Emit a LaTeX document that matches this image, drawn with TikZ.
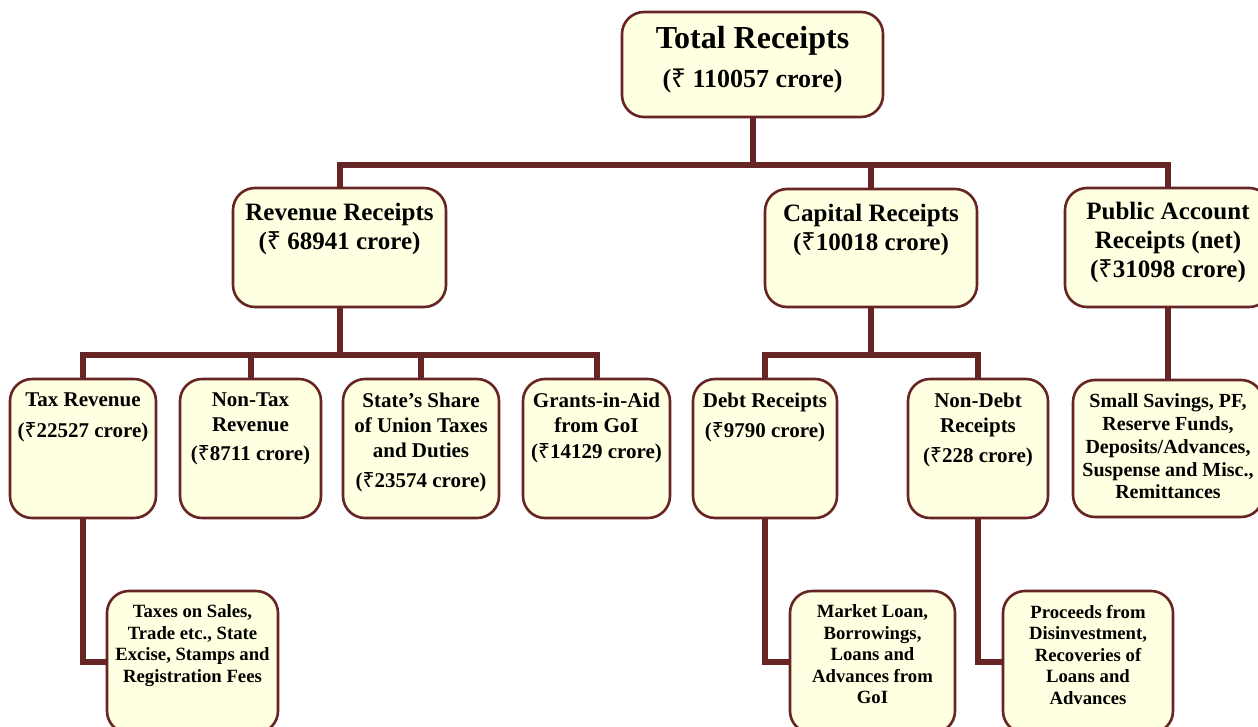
\documentclass[tikz,border=0pt]{standalone}
\usepackage{fontspec}
\setmainfont{Liberation Serif}
\newfontfamily\rupfont{Noto Sans}
\newcommand\Rs{{\rupfont\mdseries ₹}}
\usetikzlibrary{backgrounds}
\definecolor{edgec}{RGB}{102,36,36}
\definecolor{boxfill}{RGB}{255,255,225}
\tikzset{
  box/.style={draw=edgec, line width=2.6pt, fill=boxfill, rounded corners=22pt, inner sep=0pt},
  conn/.style={draw=edgec, line width=6pt, line join=miter, line cap=rect},
  lbl/.style={anchor=north, align=center, inner sep=0pt, font=\bfseries, execute at begin node={\rule{0pt}{0.75em}}},
  lvtwo/.style={lbl, font=\bfseries\fontsize{25}{29}\selectfont},
  lvthree/.style={lbl, font=\bfseries\fontsize{21}{25}\selectfont},
  lvfour/.style={lbl, font=\bfseries\fontsize{18.7}{21.5}\selectfont},
}
\begin{document}
\begin{tikzpicture}[x=1pt,y=-1pt]
\useasboundingbox (0,0) rectangle (1258,726);
\clip (0,0) rectangle (1258,726);
% level 1
\node[box, minimum width=261pt, minimum height=105pt] (tot) at (752.5,64.5) {};
% level 2
\node[box, minimum width=213pt, minimum height=119pt] (rev) at (339.5,247.5) {};
\node[box, minimum width=212pt, minimum height=118pt] (cap) at (871,248) {};
\node[box, minimum width=206pt, minimum height=119pt] (pub) at (1168,247.5) {};
% level 3
\node[box, minimum width=146pt, minimum height=139pt] (tax) at (83,448.5) {};
\node[box, minimum width=141pt, minimum height=139pt] (ntax) at (250.5,448.5) {};
\node[box, minimum width=156pt, minimum height=139pt] (share) at (421,448.5) {};
\node[box, minimum width=147pt, minimum height=139pt] (grant) at (596.5,448.5) {};
\node[box, minimum width=144pt, minimum height=139pt] (debt) at (765,448.5) {};
\node[box, minimum width=140pt, minimum height=139pt] (ndebt) at (978,448.5) {};
\node[box, minimum width=190pt, minimum height=137pt] (small) at (1168,448.5) {};
% level 4
\node[box, minimum width=171pt, minimum height=142pt] (sales) at (192.5,662) {};
\node[box, minimum width=165pt, minimum height=142pt] (mkt) at (872.5,662) {};
\node[box, minimum width=170pt, minimum height=142pt] (proc) at (1088,662) {};

% texts
\node[lbl, font=\bfseries\fontsize{32}{39}\selectfont] (ttot) at ([yshift=-15pt]tot.north)
  {Total Receipts\\{\fontsize{26}{39}\selectfont(\Rs\ 110057 crore)}};
\node[lvtwo] (trev) at ([yshift=-16pt]rev.north) {Revenue Receipts\\(\Rs\ 68941 crore)};
\node[lvtwo] (tcap) at ([yshift=-16pt]cap.north) {Capital Receipts\\(\Rs10018 crore)};
\node[lvtwo] (tpub) at ([yshift=-15pt]pub.north) {Public Account\\Receipts (net)\\(\Rs31098 crore)};
\node[lvthree] (ttax) at ([yshift=-15pt]tax.north) {Tax Revenue\\[6pt](\Rs22527 crore)};
\node[lvthree] (tntax) at ([yshift=-15pt]ntax.north) {Non-Tax\\Revenue\\[4pt](\Rs8711 crore)};
\node[lvthree] (tshare) at ([yshift=-15pt]share.north) {State’s Share\\of Union Taxes\\and Duties\\[5pt](\Rs23574 crore)};
\node[lvthree] (tgrant) at ([yshift=-15pt]grant.north) {Grants-in-Aid\\from GoI\\[1pt](\Rs14129 crore)};
\node[lvthree] (tdebt) at ([yshift=-15pt]debt.north) {Debt Receipts\\[5pt](\Rs9790 crore)};
\node[lvthree] (tndebt) at ([yshift=-15pt]ndebt.north) {Non-Debt\\Receipts\\[5pt](\Rs228 crore)};
\node[lbl, font=\bfseries\fontsize{20}{22.8}\selectfont] (tsmall) at ([yshift=-15pt]small.north)
  {Small Savings, PF,\\Reserve Funds,\\Deposits/Advances,\\Suspense and Misc.,\\Remittances};
\node[lvfour] (tsales) at ([yshift=-15pt]sales.north) {Taxes on Sales,\\Trade etc., State\\Excise, Stamps and\\Registration Fees};
\node[lvfour] (tmkt) at ([yshift=-15pt]mkt.north) {Market Loan,\\Borrowings,\\Loans and\\Advances from\\GoI};
\node[lvfour] (tproc) at ([yshift=-15pt]proc.north) {Proceeds from\\Disinvestment,\\Recoveries of\\Loans and\\Advances};

% connectors
\coordinate (b1) at (752.5,165);
\coordinate (b2) at (339.5,355);
\coordinate (b3) at (871,355);
\begin{pgfonlayer}{background}
\draw[conn] (tot.south) -- (b1);
\draw[conn] (rev.north) -- (rev.north |- b1) -- (pub.north |- b1) -- (pub.north);
\draw[conn] (cap.north) -- (cap.north |- b1);
\draw[conn] (rev.south) -- (b2);
\draw[conn] (tax.north) -- (tax.north |- b2) -- (grant.north |- b2) -- (grant.north);
\draw[conn] (ntax.north) -- (ntax.north |- b2);
\draw[conn] (share.north) -- (share.north |- b2);
\draw[conn] (cap.south) -- (b3);
\draw[conn] (debt.north) -- (debt.north |- b3) -- (ndebt.north |- b3) -- (ndebt.north);
\draw[conn] (pub.south) -- (small.north);
\draw[conn] (tax.south) |- (sales.west);
\draw[conn] (debt.south) |- (mkt.west);
\draw[conn] (ndebt.south) |- (proc.west);
\end{pgfonlayer}
\end{tikzpicture}
\end{document}
